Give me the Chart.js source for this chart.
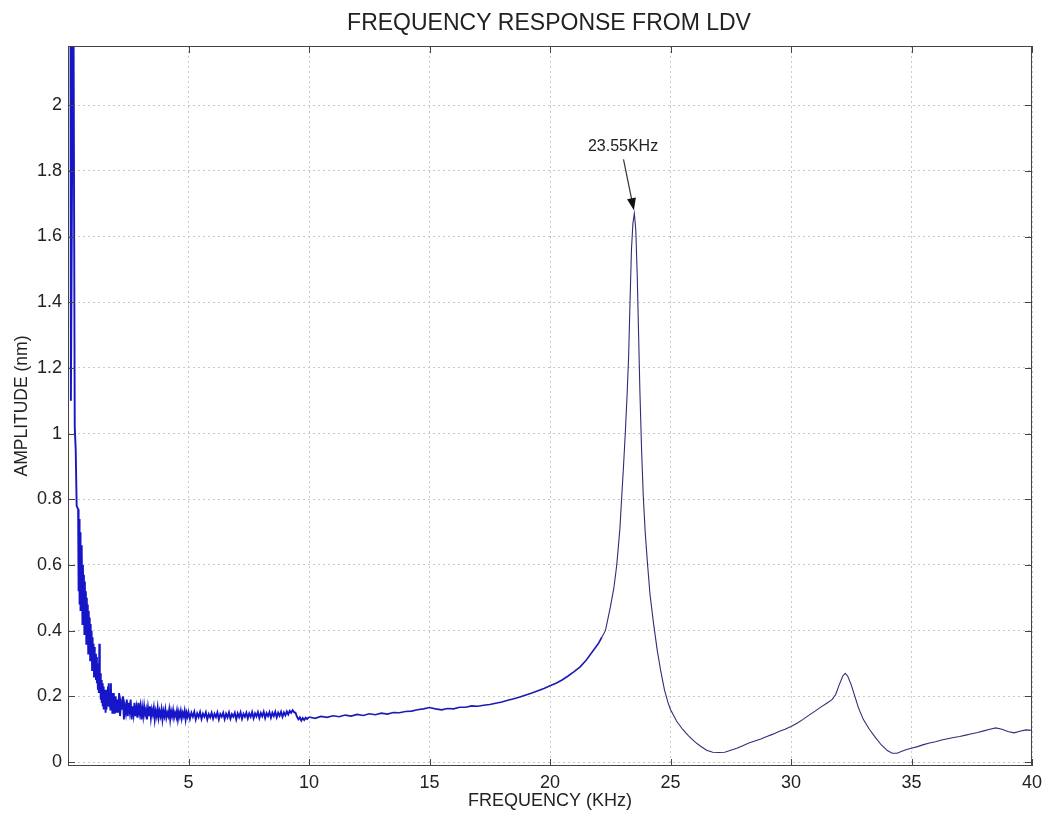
<!DOCTYPE html>
<html>
<head>
<meta charset="utf-8">
<script src="https://cdn.jsdelivr.net/npm/chart.js@4"></script>
<style>
  html, body { margin: 0; padding: 0; background: #fff; }
  #wrap { width: 1046px; height: 813px; }
</style>
</head>
<body>
<div id="wrap"><canvas id="ldv"></canvas></div>
<script>
// tick labels
const xTicks = [5, 10, 15, 20, 25, 30, 35, 40];
const yTicks = [0, 0.2, 0.4, 0.6, 0.8, 1, 1.2, 1.4, 1.6, 1.8, 2];

// [frequency kHz, amplitude nm]
const startSpike = [[0.10, 2.5], [0.12, 1.1], [0.22, 2.5], [0.28, 1.02], [0.32, 0.95], [0.36, 0.78]];

const lowNoise = [
  [0.42,0.77],[0.44,0.52],[0.46,0.74],[0.48,0.48],[0.50,0.70],[0.52,0.46],[0.54,0.66],[0.56,0.50],
  [0.58,0.64],[0.60,0.42],[0.62,0.60],[0.64,0.45],[0.66,0.57],[0.68,0.39],[0.70,0.55],[0.72,0.42],
  [0.74,0.52],[0.76,0.36],[0.78,0.50],[0.80,0.38],[0.82,0.48],[0.84,0.33],[0.86,0.46],[0.88,0.35],
  [0.90,0.44],[0.92,0.31],[0.94,0.42],[0.96,0.32],[0.98,0.40],[1.00,0.28],[1.02,0.38],[1.04,0.30],
  [1.06,0.36],[1.08,0.26],[1.10,0.35],[1.12,0.27],[1.14,0.33],[1.16,0.25],[1.18,0.32],[1.20,0.24],
  [1.22,0.30],[1.24,0.22],[1.26,0.29],[1.28,0.21],[1.30,0.36],[1.32,0.21],[1.34,0.27],[1.36,0.19],
  [1.38,0.25],[1.40,0.18],[1.42,0.24],[1.44,0.17],[1.46,0.23],[1.48,0.16],[1.50,0.22],[1.52,0.18],
  [1.54,0.21],[1.56,0.15],[1.58,0.22],[1.60,0.16],[1.62,0.21],[1.64,0.17],[1.66,0.23],[1.68,0.18],
  [1.70,0.24],[1.72,0.17],[1.74,0.22],[1.76,0.16],[1.78,0.24],[1.80,0.17],[1.82,0.21],[1.84,0.15],
  [1.86,0.20],[1.88,0.16],[1.90,0.21],[1.92,0.15],[1.94,0.19],[1.96,0.16],[1.98,0.20],[2.00,0.15]
];

const midNoise = [
  [2.04,0.19],[2.08,0.15],[2.12,0.21],[2.16,0.14],[2.20,0.18],[2.24,0.16],[2.28,0.20],[2.32,0.13],
  [2.36,0.17],[2.40,0.15],[2.44,0.19],[2.48,0.14],[2.52,0.18],[2.56,0.155],[2.60,0.19],[2.64,0.13],
  [2.68,0.17],[2.72,0.145],[2.76,0.18],[2.80,0.14],[2.84,0.165],[2.88,0.135],[2.92,0.18],[2.96,0.15],
  [3.00,0.17],[3.04,0.13],[3.08,0.165],[3.12,0.14],[3.16,0.17],[3.20,0.145],[3.24,0.16],[3.28,0.13],
  [3.32,0.165],[3.36,0.14],[3.40,0.17],[3.44,0.135],[3.48,0.16],[3.52,0.145],[3.56,0.165],[3.60,0.13],
  [3.64,0.155],[3.68,0.14],[3.72,0.165],[3.76,0.135],[3.80,0.155],[3.84,0.14],[3.88,0.16],[3.92,0.13],
  [3.96,0.155],[4.00,0.14],[4.04,0.16],[4.08,0.135],[4.12,0.15],[4.16,0.14],[4.20,0.16],[4.24,0.13],
  [4.28,0.155],[4.32,0.14],[4.36,0.158],[4.40,0.135],[4.44,0.15],[4.48,0.14],[4.52,0.157],[4.56,0.13],
  [4.60,0.152],[4.64,0.138],[4.68,0.155],[4.72,0.133],[4.76,0.15],[4.80,0.14],[4.84,0.156],[4.88,0.13],
  [4.92,0.15],[4.96,0.138],[5.00,0.152]
];

const flatNoise = [
  [5.06,0.132],[5.12,0.15],[5.18,0.138],[5.24,0.153],[5.30,0.13],[5.36,0.148],[5.42,0.137],[5.48,0.152],
  [5.54,0.131],[5.60,0.147],[5.66,0.138],[5.72,0.151],[5.78,0.13],[5.84,0.146],[5.90,0.136],[5.96,0.15],
  [6.02,0.132],[6.08,0.147],[6.14,0.137],[6.20,0.151],[6.26,0.13],[6.32,0.146],[6.38,0.138],[6.44,0.15],
  [6.50,0.131],[6.56,0.147],[6.62,0.136],[6.68,0.151],[6.74,0.132],[6.80,0.146],[6.86,0.138],[6.92,0.15],
  [6.98,0.13],[7.04,0.148],[7.10,0.137],[7.16,0.151],[7.22,0.132],[7.28,0.147],[7.34,0.138],[7.40,0.15],
  [7.46,0.133],[7.52,0.148],[7.58,0.138],[7.64,0.152],[7.70,0.133],[7.76,0.148],[7.82,0.139],[7.88,0.152],
  [7.94,0.134],[8.00,0.149],[8.06,0.139],[8.12,0.153],[8.18,0.134],[8.24,0.149],[8.30,0.14],[8.36,0.152],
  [8.42,0.135],[8.48,0.15],[8.54,0.14],[8.60,0.153],[8.66,0.136],[8.72,0.15],[8.78,0.141],[8.84,0.153],
  [8.90,0.138],[8.96,0.151],[9.02,0.142],[9.08,0.154],[9.14,0.145],[9.20,0.156],[9.26,0.15],[9.32,0.158],
  [9.38,0.152],[9.44,0.15],[9.50,0.138],[9.56,0.13],[9.62,0.136],[9.68,0.126],[9.74,0.134],[9.80,0.128],
  [9.86,0.135],[9.92,0.131],[10.00,0.137]
];

const plateau = [
  [10.25,0.133],[10.5,0.139],[10.75,0.136],[11,0.141],[11.25,0.138],[11.5,0.143],[11.75,0.14],[12,0.145],
  [12.25,0.142],[12.5,0.147],[12.75,0.144],[13,0.149],[13.25,0.146],[13.5,0.151],[13.75,0.15],[14,0.154],
  [14.25,0.155],[14.5,0.159],[14.75,0.162],[15,0.166],[15.25,0.162],[15.5,0.159],[15.75,0.163],[16,0.162],
  [16.25,0.167],[16.5,0.167],[16.75,0.171],[17,0.17],[17.25,0.173],[17.5,0.175],[17.75,0.179],[18,0.183],
  [18.25,0.188],[18.5,0.193],[18.75,0.198],[19,0.204],[19.25,0.21],[19.5,0.217],[19.75,0.224],[20,0.232],
  [20.25,0.24],[20.5,0.25],[20.75,0.262],[21,0.275],[21.25,0.29],[21.5,0.31],[21.75,0.335],[22,0.36],
  [22.15,0.38]
];

const mainPeak = [
  [22.15,0.38],[22.3,0.40],[22.5,0.47],[22.65,0.53],[22.77,0.6],[22.9,0.71],[22.97,0.80],[23.05,0.9],
  [23.13,1.01],[23.2,1.12],[23.26,1.23],[23.32,1.40],[23.38,1.56],[23.44,1.64],[23.5,1.67],[23.56,1.62],
  [23.62,1.48],[23.67,1.32],[23.73,1.13],[23.8,0.95],[23.87,0.81],[23.95,0.70],[24.05,0.60],[24.15,0.51],
  [24.3,0.42],[24.45,0.34],[24.6,0.275],[24.75,0.22],[24.9,0.18],[25.0,0.16],[25.25,0.125],[25.5,0.10],
  [25.75,0.08],[26,0.062],[26.25,0.048],[26.5,0.036],[26.75,0.03],[27,0.029],[27.25,0.03],[27.5,0.036]
];

const tail = [
  [27.75,0.042],[28,0.05],[28.25,0.058],[28.5,0.064],[28.75,0.07],[29,0.078],[29.25,0.085],[29.5,0.093],
  [29.75,0.1],[30,0.108],[30.25,0.118],[30.5,0.13],[30.75,0.143],[31,0.155],[31.25,0.168],[31.5,0.18],
  [31.7,0.19],[31.85,0.205],[32.0,0.235],[32.15,0.262],[32.25,0.27],[32.35,0.262],[32.5,0.235],[32.65,0.2],
  [32.8,0.165],[33,0.13],[33.25,0.1],[33.5,0.075],[33.75,0.052],[34,0.035],[34.2,0.027],[34.4,0.027],
  [34.6,0.033],[34.8,0.038],[35,0.042],[35.25,0.047],[35.5,0.053],[35.75,0.058],[36,0.062],[36.25,0.067],
  [36.5,0.071],[36.75,0.075],[37,0.078],[37.25,0.082],[37.5,0.086],[37.75,0.09],[38,0.095],[38.25,0.1],
  [38.5,0.104],[38.75,0.1],[39,0.093],[39.25,0.089],[39.5,0.094],[39.75,0.098],[40,0.097]
];

// peak annotation: label position, arrow start, arrow tip (data units)
const peakLabel = { text: "23.55KHz", x: 23.03, y: 1.875 };
const arrowFrom = { x: 23.05, y: 1.835 };
const arrowTo = { x: 23.48, y: 1.68 };

const FONT = "'Liberation Sans', Arial, sans-serif";
const toXY = arr => arr.map(([x, y]) => ({ x, y }));

// frame, inward ticks, title, axis titles, arrow
const matlabDecor = {
  id: "matlabDecor",
  afterDraw(chart) {
    const { ctx, chartArea: a, scales } = chart;
    const xs = scales.x, ys = scales.y;
    ctx.save();
    ctx.strokeStyle = "#444";
    ctx.lineWidth = 1;
    ctx.strokeRect(a.left + 0.5, a.top + 0.5, a.right - a.left - 1, a.bottom - a.top - 1);

    ctx.beginPath();
    xTicks.forEach(v => {
      const px = Math.round(xs.getPixelForValue(v)) + 0.5;
      ctx.moveTo(px, a.bottom); ctx.lineTo(px, a.bottom - 7);
      ctx.moveTo(px, a.top); ctx.lineTo(px, a.top + 7);
    });
    yTicks.forEach(v => {
      const py = Math.round(ys.getPixelForValue(v)) + 0.5;
      ctx.moveTo(a.left, py); ctx.lineTo(a.left + 7, py);
      ctx.moveTo(a.right, py); ctx.lineTo(a.right - 7, py);
    });
    ctx.stroke();

    ctx.fillStyle = "#222";
    ctx.textAlign = "center";
    ctx.textBaseline = "middle";
    ctx.font = "23px " + FONT;
    ctx.fillText("FREQUENCY RESPONSE FROM LDV", 549, 24);
    ctx.font = "18px " + FONT;
    ctx.fillText("FREQUENCY (KHz)", 550, 801);
    ctx.save();
    ctx.translate(22, (a.top + a.bottom) / 2);
    ctx.rotate(-Math.PI / 2);
    ctx.font = "17.5px " + FONT;
    ctx.fillText("AMPLITUDE (nm)", 0, 0);
    ctx.restore();

    // annotation
    ctx.font = "16px " + FONT;
    ctx.fillText(peakLabel.text, xs.getPixelForValue(peakLabel.x), ys.getPixelForValue(peakLabel.y));
    const x1 = xs.getPixelForValue(arrowFrom.x), y1 = ys.getPixelForValue(arrowFrom.y);
    const x2 = xs.getPixelForValue(arrowTo.x), y2 = ys.getPixelForValue(arrowTo.y);
    const ang = Math.atan2(y2 - y1, x2 - x1);
    ctx.strokeStyle = "#333";
    ctx.lineWidth = 1.2;
    ctx.beginPath();
    ctx.moveTo(x1, y1);
    ctx.lineTo(x2 - 8 * Math.cos(ang), y2 - 8 * Math.sin(ang));
    ctx.stroke();
    ctx.fillStyle = "#111";
    ctx.beginPath();
    ctx.moveTo(x2, y2);
    ctx.lineTo(x2 - 12 * Math.cos(ang) + 4.5 * Math.sin(ang), y2 - 12 * Math.sin(ang) - 4.5 * Math.cos(ang));
    ctx.lineTo(x2 - 12 * Math.cos(ang) - 4.5 * Math.sin(ang), y2 - 12 * Math.sin(ang) + 4.5 * Math.cos(ang));
    ctx.closePath();
    ctx.fill();
    ctx.restore();
  }
};

new Chart(document.getElementById("ldv"), {
  type: "line",
  data: {
    datasets: [
      {
        data: toXY([...startSpike, ...lowNoise, ...midNoise, ...flatNoise]),
        borderColor: "#1616c8",
        borderWidth: 1.9
      },
      {
        data: toXY([[10.00, 0.137], ...plateau]),
        borderColor: "#1c1cb4",
        borderWidth: 1.6
      },
      {
        data: toXY([...mainPeak, ...tail]),
        borderColor: "#2e2e78",
        borderWidth: 1.1
      }
    ]
  },
  plugins: [matlabDecor],
  options: {
    responsive: true,
    maintainAspectRatio: false,
    animation: false,
    parsing: false,
    elements: { point: { radius: 0 }, line: { tension: 0 } },
    layout: { padding: { left: 0, top: 46, right: 14, bottom: 0 } },
    plugins: { legend: { display: false }, tooltip: { enabled: false } },
    scales: {
      x: {
        type: "linear",
        min: 0,
        max: 40,
        afterBuildTicks: s => { s.ticks = xTicks.map(v => ({ value: v })); },
        afterFit: s => { s.height = 47; s.paddingLeft = 0; s.paddingRight = 0; },
        grid: { color: "#c8c8c8", drawTicks: false },
        border: { display: false, dash: [2, 3] },
        ticks: { padding: 6, color: "#222", font: { family: FONT, size: 18 }, maxRotation: 0 }
      },
      y: {
        type: "linear",
        min: -0.012,
        max: 2.18,
        afterBuildTicks: s => { s.ticks = yTicks.map(v => ({ value: v })); },
        afterFit: s => { s.width = 68; },
        grid: { color: "#c8c8c8", drawTicks: false },
        border: { display: false, dash: [2, 3] },
        ticks: { padding: 6, color: "#222", font: { family: FONT, size: 18 }, callback: v => String(v) }
      }
    }
  }
});
</script>
</body>
</html>
